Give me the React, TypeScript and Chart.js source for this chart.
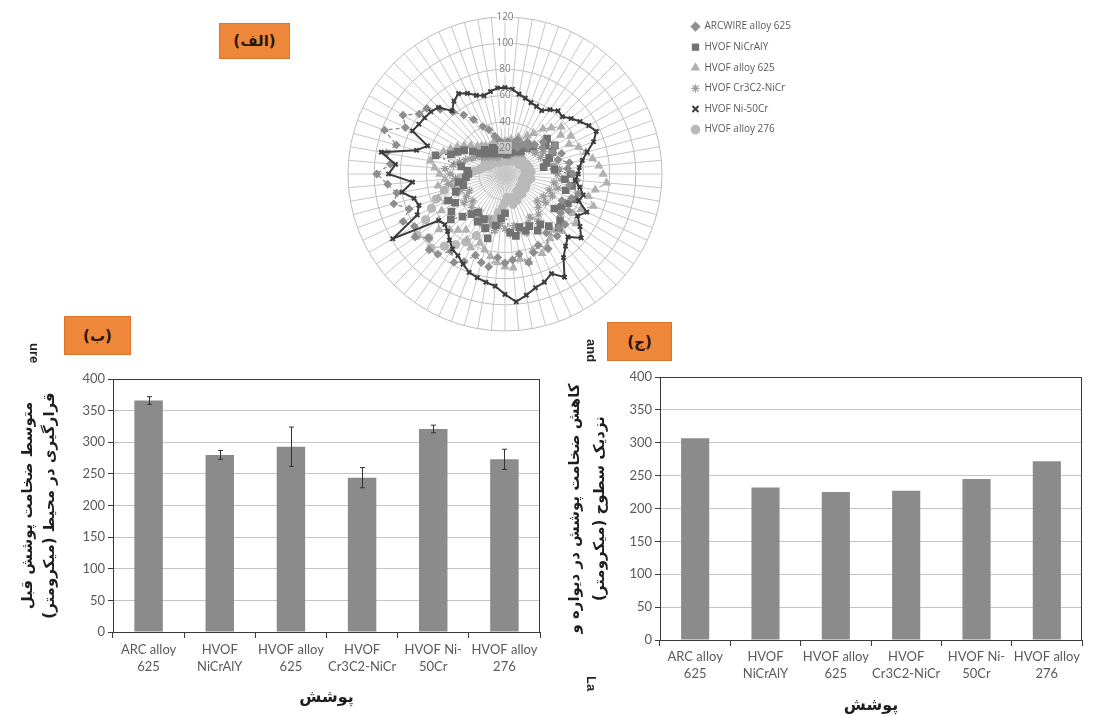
import React, { useEffect, useRef } from "react";
import { Chart, registerables } from "chart.js";

Chart.register(...registerables);

// ---------------- DATA ----------------
const SERIES_NAMES = [
  "ARCWIRE alloy 625",
  "HVOF NiCrAlY",
  "HVOF alloy 625",
  "HVOF Cr3C2-NiCr",
  "HVOF Ni-50Cr",
  "HVOF alloy 276",
];

const RADAR_TICKS_MAX = 120;
const RADAR_TICK_STEP = 20;

const ARCWIRE_625 = [
  22, 25, 20, 24, 28, 22, 26, 30, 27,
  32, 38, 35, 44, 40, 46, 42, 50, 48,
  52, 55, 50, 58, 54, 48, 56, 52, 60,
  58, 62, 55, 66, 60, 64, 70, 62, 66,
  68, 64, 72, 70, 66, 74, 78, 72, 80,
  82, 76, 84, 80, 86, 78, 88, 84, 90,
  98, 88, 92, 86, 98, 84, 90, 80, 78,
  70, 62, 55, 48, 40, 36, 30, 26, 24,
];
const HVOF_NICRALY = [
  18, 15, 20, 17, 22, 19, 24, 21, 26,
  30, 42, 38, 44, 40, 36, 33, 30, 38,
  50, 46, 52, 48, 57, 53, 50, 46, 55,
  58, 52, 47, 50, 44, 46, 42, 48, 45,
  30, 34, 40, 51, 44, 38, 42, 36, 40,
  46, 54, 50, 44, 48, 40, 33, 36, 30,
  28, 29, 34, 55, 44, 40, 36, 30, 25,
  22, 24, 20, 18, 22, 17, 19, 16, 20,
];
const HVOF_625 = [
  25, 22, 27, 24, 30, 28, 34, 38, 45,
  50, 56, 52, 58, 54, 60, 64, 68, 72,
  75, 78, 70, 66, 72, 64, 60, 66, 58,
  62, 56, 60, 64, 67, 62, 70, 66, 72,
  71, 68, 64, 60, 56, 62, 58, 52, 56,
  60, 66, 62, 56, 50, 54, 48, 52, 46,
  50, 54, 58, 54, 50, 46, 42, 38, 34,
  30, 28, 26, 24, 22, 26, 24, 22, 20,
];
const HVOF_CR3C2 = [
  15, 18, 14, 20, 16, 22, 18, 24, 20,
  26, 30, 28, 34, 30, 36, 32, 38, 42,
  40, 44, 38, 42, 36, 40, 34, 38, 32,
  36, 40, 44, 38, 42, 48, 44, 40, 46,
  42, 38, 44, 40, 36, 42, 38, 34, 40,
  36, 32, 38, 34, 30, 36, 40, 44, 38,
  42, 46, 40, 36, 32, 28, 26, 22, 20,
  18, 20, 16, 18, 14, 17, 15, 18, 16,
];
const HVOF_NI50CR = [
  66, 65, 62, 60, 58, 57, 56, 60, 63,
  62, 66, 70, 74, 77, 72, 65, 60, 57,
  56, 54, 58, 62, 60, 69, 64, 70, 76,
  68, 72, 78, 91, 84, 88, 90, 94, 98,
  92, 86, 84, 82, 80, 76, 72, 70, 66,
  62, 60, 62, 99, 74, 70, 72, 80, 71,
  89, 84, 96, 70, 63, 78, 76, 75, 74,
  72, 63, 68, 71, 68, 64, 62, 64, 66,
];
const HVOF_276 = [
  12, 14, 10, 13, 15, 11, 14, 12, 16,
  14, 17, 13, 16, 18, 15, 19, 16, 20,
  18, 15, 20, 17, 14, 18, 16, 19, 15,
  17, 20, 16, 18, 22, 19, 24, 20, 18,
  22, 26, 30, 36, 44, 52, 60, 66, 72,
  80, 76, 82, 70, 62, 56, 48, 40, 34,
  28, 24, 20, 18, 16, 14, 17, 13, 15,
  12, 14, 11, 13, 10, 12, 14, 11, 13,
];
const RADAR_SPOKES = ARCWIRE_625.map(() => "");

const BAR_CATEGORIES = [
  ["ARC alloy", "625"],
  ["HVOF", "NiCrAlY"],
  ["HVOF alloy", "625"],
  ["HVOF", "Cr3C2-NiCr"],
  ["HVOF Ni-", "50Cr"],
  ["HVOF alloy", "276"],
];
const BEFORE_VALUES = [366, 280, 293, 244, 321, 273];
const BEFORE_ERRORS = [6, 7, 31, 16, 6, 16];
const AFTER_VALUES = [307, 232, 225, 227, 245, 272];
const BAR_Y_MAX = 400;
const BAR_Y_STEP = 50;

const rtl = (s: string) => "\u202B" + s + "\u202C";
const B_Y_TITLE = ["متوسط ضخامت پوشش قبل", "قرارگیری در محیط (میکرومتر)"];
const C_Y_TITLE = ["کاهش ضخامت پوشش در دیواره و", "نزدیک سطوح (میکرومتر)"];
const X_TITLE = "پوشش";

// ---------------- PLUGINS ----------------
const frameBox = {
  id: "frameBox",
  afterDraw(chart: any) {
    const { ctx, chartArea: a } = chart;
    ctx.save();
    ctx.strokeStyle = "#3a3a3a";
    ctx.lineWidth = 1;
    ctx.strokeRect(Math.round(a.left) + 0.5, Math.round(a.top) + 0.5, Math.round(a.width) - 1, Math.round(a.height));
    ctx.restore();
  },
};

const errorBars = {
  id: "errorBars",
  afterDatasetsDraw(chart: any) {
    const ds: any = chart.data.datasets[0];
    if (!ds.errors) return;
    const meta = chart.getDatasetMeta(0);
    const y = chart.scales.y;
    const ctx = chart.ctx;
    ctx.save();
    ctx.strokeStyle = "#333";
    ctx.lineWidth = 1;
    meta.data.forEach((el: any, i: number) => {
      const v = ds.data[i];
      const e = ds.errors[i];
      const x = Math.round(el.x) + 0.5;
      const yHi = y.getPixelForValue(v + e);
      const yLo = y.getPixelForValue(v - e);
      ctx.beginPath();
      ctx.moveTo(x, yHi);
      ctx.lineTo(x, yLo);
      ctx.moveTo(x - 2.5, yHi);
      ctx.lineTo(x + 2.5, yHi);
      ctx.moveTo(x - 2.5, yLo);
      ctx.lineTo(x + 2.5, yLo);
      ctx.stroke();
    });
    ctx.restore();
  },
};

// ---------------- RADAR ----------------
function RadarChart() {
  const ref = useRef<HTMLCanvasElement>(null);
  useEffect(() => {
    const mk = (label: string, data: number[], color: string, style: any, radius: number, dash: number[], width: number) => ({
      label,
      data,
      borderColor: color,
      backgroundColor: color,
      pointBackgroundColor: color,
      pointBorderColor: color,
      pointStyle: style,
      pointRadius: radius,
      borderWidth: width,
      borderDash: dash,
      fill: false,
      tension: 0,
    });
    const chart = new Chart(ref.current!, {
      type: "radar",
      data: {
        labels: RADAR_SPOKES,
        datasets: [
          mk(SERIES_NAMES[4], HVOF_NI50CR, "#3d3d3d", "crossRot", 3, [], 2),
          mk(SERIES_NAMES[0], ARCWIRE_625, "#8e8e8e", "rectRot", 3.5, [4, 3], 1.3),
          mk(SERIES_NAMES[1], HVOF_NICRALY, "#727272", "rect", 4.5, [2, 3], 1.3),
          mk(SERIES_NAMES[2], HVOF_625, "#b0b0b0", "triangle", 4, [5, 3], 1.3),
          mk(SERIES_NAMES[3], HVOF_CR3C2, "#9c9c9c", "star", 4, [6, 2], 1.3),
          mk(SERIES_NAMES[5], HVOF_276, "#b9b9b9", "circle", 4, [], 1.2),
        ],
      },
      options: {
        animation: false,
        responsive: false,
        layout: { padding: { top: 11, bottom: 1, left: 0, right: 30 } },
        plugins: {
          tooltip: { enabled: false },
          legend: {
            position: "right",
            align: "start",
            labels: {
              usePointStyle: true,
              boxWidth: 8,
              boxHeight: 6,
              padding: 10.6,
              color: "#5a5a5a",
              font: { size: 10, family: "Open Sans" },
              sort: (a: any, b: any) =>
                SERIES_NAMES.indexOf(a.text) - SERIES_NAMES.indexOf(b.text),
            },
          },
        },
        scales: {
          r: {
            min: 0,
            max: RADAR_TICKS_MAX,
            ticks: {
              stepSize: RADAR_TICK_STEP,
              color: "#7a7a7a",
              font: { size: 10, family: "Open Sans" },
              backdropColor: "rgba(255,255,255,0.55)",
              backdropPadding: 1,
              z: 1,
            },
            grid: { circular: true, color: "#bcbcbc", lineWidth: 1 },
            angleLines: { color: "#c6c6c6", lineWidth: 1 },
            pointLabels: { display: false },
          },
        },
      } as any,
    });
    return () => chart.destroy();
  }, []);
  return (
    <canvas
      ref={ref}
      width={500}
      height={338}
      style={{ position: "absolute", left: 331, top: 0, width: 500, height: 338 }}
    />
  );
}

// ---------------- BAR ----------------
function BarChart(props: {
  values: number[];
  errors: number[] | null;
  yTitle: string[];
  left: number;
  top: number;
  width: number;
  height: number;
  yAxisWidth: number;
  xAxisHeight: number;
  padTop: number;
  padRight: number;
  yTitlePad: number;
  yTitleLH: number;
  xTickPad: number;
  xTitlePadBottom: number;
}) {
  const ref = useRef<HTMLCanvasElement>(null);
  useEffect(() => {
    const p = props;
    const ds: any = {
      data: p.values,
      backgroundColor: "#8b8b8b",
      borderWidth: 0,
      categoryPercentage: 1,
      barPercentage: 0.4,
    };
    if (p.errors) ds.errors = p.errors;
    const chart = new Chart(ref.current!, {
      type: "bar",
      data: { labels: BAR_CATEGORIES, datasets: [ds] },
      plugins: [frameBox, errorBars],
      options: {
        animation: false,
        responsive: false,
        layout: { padding: { top: p.padTop, right: p.padRight, left: 0, bottom: 0 } },
        plugins: { legend: { display: false }, tooltip: { enabled: false } },
        scales: {
          x: {
            afterFit: (s: any) => {
              s.height = p.xAxisHeight;
            },
            grid: {
              drawOnChartArea: false,
              drawTicks: true,
              tickLength: 6,
              tickColor: "#3a3a3a",
              offset: true,
            },
            border: { display: true, color: "#3a3a3a" },
            ticks: {
              color: "#5a5a5a",
              font: { size: 13, family: "Lato", lineHeight: 1.25 },
              maxRotation: 0,
              autoSkip: false,
              padding: p.xTickPad,
            },
            title: {
              display: true,
              text: rtl(X_TITLE),
              color: "#1e1e1e",
              font: { size: 16, weight: "bold", family: "DejaVu Sans", lineHeight: 1.2 },
              padding: { top: 0, bottom: p.xTitlePadBottom },
            },
          },
          y: {
            min: 0,
            max: BAR_Y_MAX,
            afterFit: (s: any) => {
              s.width = p.yAxisWidth;
            },
            grid: {
              color: "#c4c4c4",
              tickColor: "#3a3a3a",
              tickLength: 5,
              drawTicks: true,
            },
            border: { display: true, color: "#3a3a3a" },
            ticks: {
              stepSize: BAR_Y_STEP,
              color: "#5a5a5a",
              font: { size: 13, family: "Lato" },
              padding: 3,
            },
            title: {
              display: true,
              text: p.yTitle.map(rtl),
              color: "#1e1e1e",
              font: { size: 15, weight: "bold", family: "DejaVu Sans", lineHeight: p.yTitleLH },
              padding: { top: p.yTitlePad, bottom: 0 },
            },
          },
        },
      } as any,
    });
    return () => chart.destroy();
  }, []);
  return (
    <canvas
      ref={ref}
      width={props.width}
      height={props.height}
      style={{ position: "absolute", left: props.left, top: props.top, width: props.width, height: props.height }}
    />
  );
}

const tagStyle = (left: number, top: number, w: number, h: number): React.CSSProperties => ({
  position: "absolute",
  left,
  top,
  width: w,
  height: h,
  background: "#ee8739",
  border: "1px solid #d9762c",
  boxSizing: "border-box",
  display: "flex",
  alignItems: "center",
  justifyContent: "center",
  fontFamily: "DejaVu Sans",
  fontWeight: "bold",
  fontSize: 15,
  color: "#2a1608",
  direction: "rtl",
});

const strayStyle = (left: number, top: number): React.CSSProperties => ({
  position: "absolute",
  left,
  top,
  fontFamily: "Liberation Sans",
  fontWeight: "bold",
  fontSize: 13,
  color: "#222",
  transform: "rotate(90deg)",
  transformOrigin: "left top",
  whiteSpace: "nowrap",
});

export default function App() {
  return (
    <div
      style={{
        position: "absolute",
        left: 0,
        top: 0,
        width: 1095,
        height: 715,
        background: "#ffffff",
        overflow: "hidden",
      }}
    >
      <RadarChart />
      <BarChart
        values={BEFORE_VALUES}
        errors={BEFORE_ERRORS}
        yTitle={B_Y_TITLE}
        left={0}
        top={362}
        width={548}
        height={353}
        yAxisWidth={113}
        xAxisHeight={83}
        padTop={17}
        padRight={8}
        yTitlePad={17}
        yTitleLH={1.45}
        xTickPad={4}
        xTitlePadBottom={8}
      />
      <BarChart
        values={AFTER_VALUES}
        errors={null}
        yTitle={C_Y_TITLE}
        left={560}
        top={362}
        width={535}
        height={353}
        yAxisWidth={100}
        xAxisHeight={75}
        padTop={15}
        padRight={13}
        yTitlePad={2}
        yTitleLH={1.7}
        xTickPad={3}
        xTitlePadBottom={0}
      />
      <div style={tagStyle(219, 23, 71, 36)}>(الف)</div>
      <div style={tagStyle(64, 316, 67, 39)}>(ب)</div>
      <div style={tagStyle(607, 322, 65, 39)}>(ج)</div>
      <div style={strayStyle(42, 343)}>ure</div>
      <div style={strayStyle(599, 339)}>and</div>
      <div style={strayStyle(599, 676)}>La</div>
    </div>
  );
}
